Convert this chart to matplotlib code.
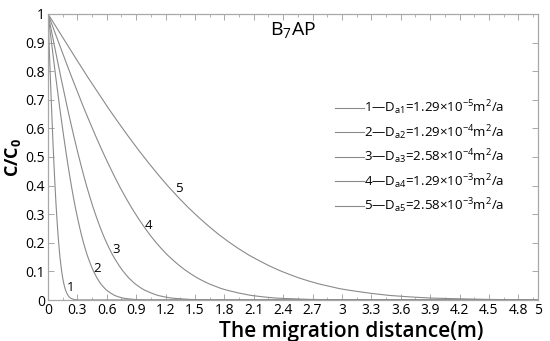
import numpy as np
import matplotlib
matplotlib.use("Agg")
import matplotlib.pyplot as plt
from matplotlib.ticker import MultipleLocator, FixedLocator

plt.rcParams['font.family'] = ['Open Sans', 'DejaVu Sans']
plt.rcParams['mathtext.fontset'] = 'custom'
plt.rcParams['mathtext.rm'] = 'Open Sans'
plt.rcParams['mathtext.it'] = 'Open Sans'
plt.rcParams['mathtext.bf'] = 'Open Sans:bold'

# C/C0 levels, and the distance (m) at which each curve crosses them
levels = [1, .944, .888, .832, .777, .724, .671, .621, .572, .525, .480, .437, .396, .358,
          .322, .289, .258, .229, .203, .179, .157, .138, .120, .104, .090, .077, .066,
          .056, .048, .040, .034, .024, .016, .011, .007, .005, .002, .0004, 0]

x1 = [0, .006, .012, .018, .024, .03, .036, .042, .048, .054, .06, .066, .072, .078, .084,
      .09, .096, .102, .108, .114, .12, .126, .132, .138, .144, .15, .156, .162, .168,
      .174, .18, .192, .204, .216, .228, .24, .264, .30, 5.0]
x2 = [0, .02, .04, .06, .08, .10, .12, .14, .16, .18, .20, .22, .24, .26, .28, .30, .32,
      .34, .36, .38, .40, .42, .44, .46, .48, .50, .52, .54, .56, .58, .60, .64, .68, .72,
      .76, .80, .88, 1.0, 5.0]
x3 = [0, .033, .066, .099, .132, .165, .198, .231, .264, .297, .33, .363, .396, .429,
      .462, .495, .528, .561, .594, .627, .66, .693, .726, .759, .792, .825, .858, .891,
      .924, .957, .99, 1.056, 1.122, 1.188, 1.254, 1.32, 1.452, 1.65, 5.0]
x4 = [0, .061, .122, .183, .244, .305, .366, .427, .488, .549, .61, .671, .732, .793,
      .854, .915, .976, 1.037, 1.098, 1.159, 1.22, 1.281, 1.342, 1.403, 1.464, 1.525,
      1.586, 1.647, 1.708, 1.769, 1.83, 1.952, 2.074, 2.196, 2.318, 2.44, 2.684, 3.05, 5.0]
x5 = [0, .1025, .205, .3075, .41, .5125, .615, .7175, .82, .9225, 1.025, 1.1275, 1.23,
      1.3325, 1.435, 1.5375, 1.64, 1.7425, 1.845, 1.9475, 2.05, 2.1525, 2.255, 2.3575,
      2.46, 2.5625, 2.665, 2.7675, 2.87, 2.9725, 3.075, 3.28, 3.485, 3.69, 3.895, 4.1,
      4.51, 5.0, 5.0]

legend_labels = [
    "1\u2014D$_{a1}$=1.29\u00d710$^{-5}$m$^{2}$/a",
    "2\u2014D$_{a2}$=1.29\u00d710$^{-4}$m$^{2}$/a",
    "3\u2014D$_{a3}$=2.58\u00d710$^{-4}$m$^{2}$/a",
    "4\u2014D$_{a4}$=1.29\u00d710$^{-3}$m$^{2}$/a",
    "5\u2014D$_{a5}$=2.58\u00d710$^{-3}$m$^{2}$/a",
]

curve_tags = ["1", "2", "3", "4", "5"]
tag_x = [0.23, 0.50, 0.70, 1.03, 1.34]
tag_y = [0.045, 0.11, 0.175, 0.26, 0.39]

xticks = [0, 0.3, 0.6, 0.9, 1.2, 1.5, 1.8, 2.1, 2.4, 2.7, 3, 3.3, 3.6, 3.9, 4.2, 4.5, 4.8, 5]
yticks = [0, 0.1, 0.2, 0.3, 0.4, 0.5, 0.6, 0.7, 0.8, 0.9, 1]

line_col = "#8a8a8a"
frame_col = "#a8a8a8"

fig = plt.figure(figsize=(5.5, 3.41), dpi=100)
ax = fig.add_axes([0.0873, 0.1202, 0.8907, 0.8388])

for xx, lab in zip([x1, x2, x3, x4, x5], legend_labels):
    ax.plot(xx, levels, color=line_col, lw=0.8, label=lab)

for t, tx, ty in zip(curve_tags, tag_x, tag_y):
    ax.text(tx, ty, t, fontsize=9.5, ha="center", va="center")

ax.text(2.5, 0.945, "B$_{\\mathregular{7}}$AP", fontsize=14, ha="center", va="center")

ax.set_xlim(0, 5)
ax.set_ylim(0, 1)
ax.xaxis.set_major_locator(FixedLocator(xticks))
ax.set_xticklabels(["%g" % v for v in xticks])
ax.xaxis.set_minor_locator(MultipleLocator(0.15))
ax.yaxis.set_major_locator(FixedLocator(yticks))
ax.set_yticklabels(["%g" % v for v in yticks])

ax.tick_params(which="both", direction="in", top=True, right=True,
               color=frame_col, labelsize=10, pad=2)
ax.tick_params(which="major", length=4, width=0.7)
ax.tick_params(which="minor", length=2, width=0.6)
for s in ax.spines.values():
    s.set_color(frame_col)
    s.set_linewidth(0.9)

ax.set_xlabel("The migration distance(m)", fontsize=15, fontweight="semibold")
ax.xaxis.set_label_coords(0.618, -0.075)
ax.set_ylabel("C/C$_{\\mathregular{0}}$", fontsize=13, fontweight="bold", labelpad=2)

leg = ax.legend(loc="upper left", bbox_to_anchor=(0.586, 0.705), frameon=False,
                fontsize=9.5, handlelength=2.2, handletextpad=0.0, labelspacing=0.44,
                borderpad=0, borderaxespad=0)

fig.savefig("out.png", dpi=100)
